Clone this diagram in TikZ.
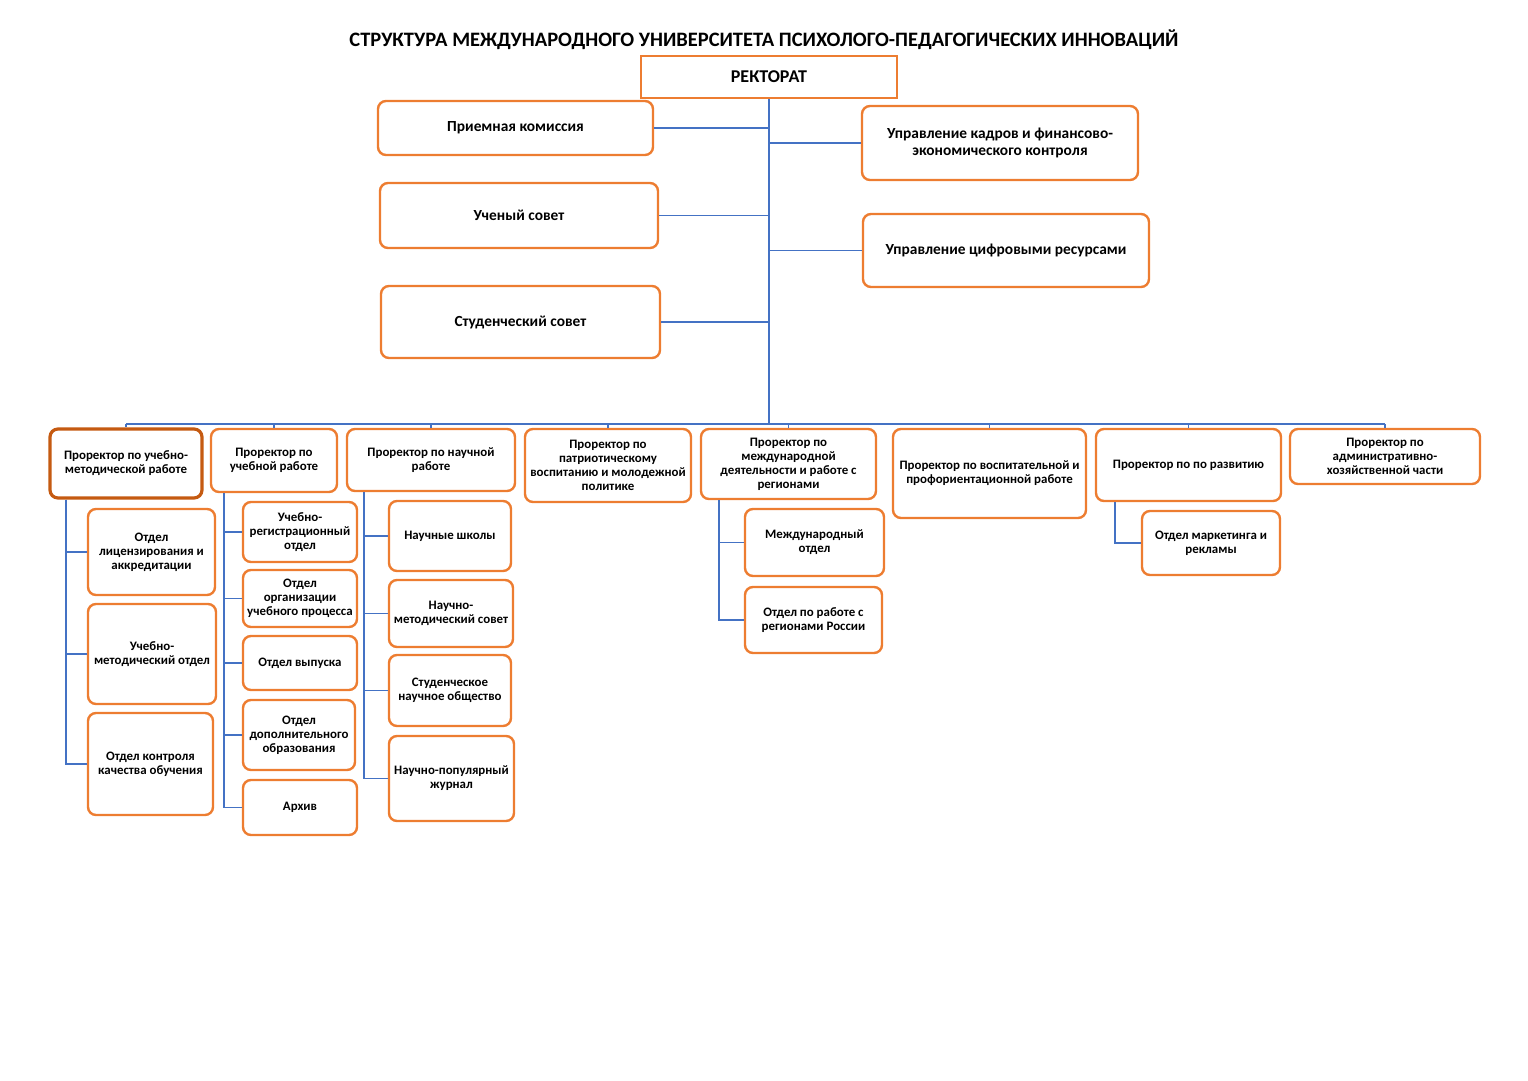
\documentclass[tikz,border=0pt]{standalone}
\usepackage{fontspec}
\setmainfont{Carlito}
\usetikzlibrary{positioning}
\definecolor{boxorange}{HTML}{ED7D31}
\definecolor{boxbrown}{HTML}{C55A11}
\definecolor{linkblue}{HTML}{4472C4}
\tikzset{
  unit/.style={draw=boxorange,line width=2.4pt,rounded corners=8pt,fill=white,align=center,inner sep=1pt,
    font=\bfseries\fontsize{12.9}{14}\selectfont},
  upper/.style={unit,font=\bfseries\fontsize{15.4}{17}\selectfont},
  link/.style={draw=linkblue,line width=1.2pt}
}
\newcommand{\unitbox}[6]{\node[#1,minimum width=#4,minimum height=#5] (#2) at (#3) {#6};}
\begin{document}
\begin{tikzpicture}[x=1pt,y=-1pt]
\useasboundingbox (0,0) rectangle (1528,1080);
\node[font=\bfseries\fontsize{20.5}{24}\selectfont] (title) at (764,40) {СТРУКТУРА МЕЖДУНАРОДНОГО УНИВЕРСИТЕТА ПСИХОЛОГО-ПЕДАГОГИЧЕСКИХ ИННОВАЦИЙ};
\node[draw=boxorange,line width=2.6pt,fill=white,minimum width=256,minimum height=42,font=\bfseries\fontsize{18}{20}\selectfont] (rect) at (769,77) {РЕКТОРАТ};
\coordinate (bus) at (769,424);
\draw[link] (rect.south) -- (bus);
\unitbox{upper}{pk}{515.5,128}{275}{54}{Приемная комиссия}
\unitbox{upper}{us}{519,215.5}{278}{65}{Ученый совет}
\unitbox{upper}{ss}{520.5,322}{279}{72}{Студенческий совет}
\unitbox{upper}{uk}{1000,143}{276}{74}{Управление кадров и финансово-\\экономического контроля}
\unitbox{upper}{ucr}{1006,250.5}{286}{73}{Управление цифровыми ресурсами}
\foreach \n in {pk,us,ss,uk,ucr}
  \draw[link] (\n) -- (\n -| rect.south);
\unitbox{unit,draw=boxbrown,line width=3.2pt}{p1}{126,463.5}{152}{69}{Проректор по учебно-\\методической работе}
\unitbox{unit}{p2}{274,460.5}{126}{63}{Проректор по\\учебной работе}
\unitbox{unit}{p3}{431,460}{168}{62}{Проректор по научной\\работе}
\unitbox{unit}{p4}{608,465.5}{166}{73}{Проректор по\\патриотическому\\воспитанию и молодежной\\политике}
\unitbox{unit}{p5}{788.5,464}{175}{70}{Проректор по\\международной\\деятельности и работе с\\регионами}
\unitbox{unit}{p6}{989.5,473.5}{193}{89}{Проректор по воспитательной и\\профориентационной работе}
\unitbox{unit}{p7}{1188.5,465}{185}{72}{Проректор по по развитию}
\unitbox{unit}{p8}{1385,456.5}{190}{55}{Проректор по\\административно-\\хозяйственной части}
\draw[link] (p1.north |- bus) -- (p8.north |- bus);
\foreach \p in {p1,p2,p3,p4,p5,p6,p7,p8}
  \draw[link] (\p.north |- bus) -- (\p.north);
\unitbox{unit}{a1}{151.5,552}{127}{86}{Отдел\\лицензирования и\\аккредитации}
\unitbox{unit}{a2}{152,654}{128}{100}{Учебно-\\методический отдел}
\unitbox{unit}{a3}{150.5,764}{125}{102}{Отдел контроля\\качества обучения}
\unitbox{unit}{b1}{300,532}{114}{60}{Учебно-\\регистрационный\\отдел}
\unitbox{unit}{b2}{300,598.5}{114}{57}{Отдел\\организации\\учебного процесса}
\unitbox{unit}{b3}{300,663}{114}{54}{Отдел выпуска}
\unitbox{unit}{b4}{299,735}{112}{70}{Отдел\\дополнительного\\образования}
\unitbox{unit}{b5}{300,807.5}{114}{55}{Архив}
\unitbox{unit}{c1}{450,536}{122}{70}{Научные школы}
\unitbox{unit}{c2}{451,613.5}{124}{67}{Научно-\\методический совет}
\unitbox{unit}{c3}{450,690.5}{122}{71}{Студенческое\\научное общество}
\unitbox{unit}{c4}{451.5,778.5}{125}{85}{Научно-популярный\\журнал}
\unitbox{unit}{e1}{814.5,542.5}{139}{67}{Международный\\отдел}
\unitbox{unit}{e2}{813.5,620}{137}{66}{Отдел по работе с\\регионами России}
\unitbox{unit}{g1}{1211,543}{138}{64}{Отдел маркетинга и\\рекламы}
\coordinate (sp1) at (66,0);
\coordinate (sp2) at (224,0);
\coordinate (sp3) at (364,0);
\coordinate (sp5) at (719,0);
\coordinate (sp7) at (1115,0);
\foreach \c in {a1,a2,a3} \draw[link] (p1.south -| sp1) |- (\c.west);
\foreach \c in {b1,b2,b3,b4,b5} \draw[link] (p2.south -| sp2) |- (\c.west);
\foreach \c in {c1,c2,c3,c4} \draw[link] (p3.south -| sp3) |- (\c.west);
\foreach \c in {e1,e2} \draw[link] (p5.south -| sp5) |- (\c.west);
\draw[link] (p7.south -| sp7) |- (g1.west);
\end{tikzpicture}
\end{document}
